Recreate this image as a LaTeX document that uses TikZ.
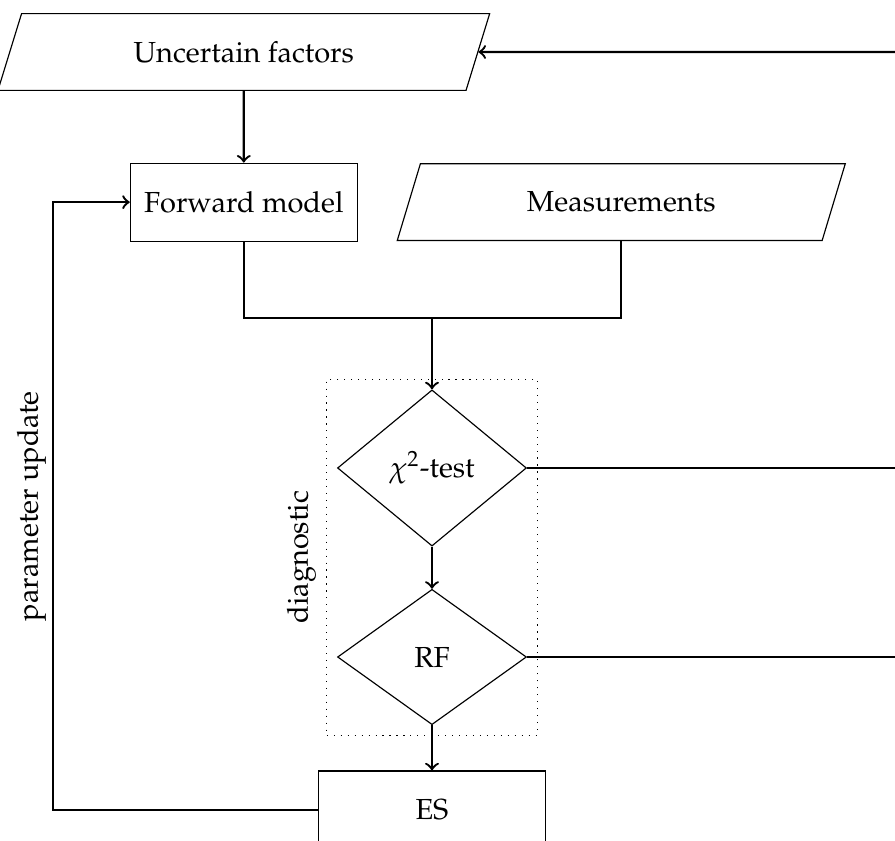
\documentclass[tikz,border=0pt]{standalone}
\usepackage[T1]{fontenc}
\usepackage{mathpazo}
\usepackage{amsmath}
\usepackage{tikz}
\usetikzlibrary{shapes.geometric,fit}

\tikzset{
  io/.style={draw, trapezium, trapezium left angle=60, trapezium right angle=120,
    trapezium stretches body, minimum height=0.93cm},
  block/.style={draw, rectangle, minimum height=0.945cm},
  decision/.style={draw, diamond, minimum width=2.29cm},
  link/.style={thick},
}

\begin{document}
\begin{tikzpicture}
  \useasboundingbox (0,0) rectangle (10.848,-10.193);
  \clip (0,0) rectangle (10.848,-10.193);
  \node[io, minimum width=5.96cm] (unc) at (2.955,-0.63) {Uncertain factors};
  \node[block, minimum width=2.75cm] (fwd) at (2.955,-2.45) {Forward model};
  \node[io, minimum width=5.43cm] (meas) at (7.53,-2.45) {Measurements};
  \node[decision, minimum height=1.87cm] (chi) at (5.236,-5.672) {$\chi^2$-test};
  \node[decision, minimum height=1.64cm] (rf) at (5.236,-7.963) {RF};
  \node[block, minimum width=2.76cm] (es) at (5.236,-9.817) {ES};
  \node[draw, dotted, inner sep=3.5pt, fit=(chi)(rf),
    label={[rotate=90, anchor=south]west:diagnostic}] (diag) {};
  \coordinate (join) at (5.236,-3.854);
  \coordinate (back) at (0.642,-9.817);
  \coordinate (fb) at (11.2,-0.63);
  \coordinate (chiout) at (11.2,-5.672);
  \coordinate (rfout) at (11.2,-7.963);
  \draw[link, ->] (fb) -- (unc.east);
  \draw[link, ->] (unc.south) -- (fwd.north);
  \draw[link] (fwd.south) |- (join) -| (meas.south);
  \draw[link, ->] (join) -- (chi.north);
  \draw[link, ->] (chi.south) -- (rf.north);
  \draw[link, ->] (rf.south) -- (es.north);
  \draw[link] (chi.east) -- (chiout);
  \draw[link] (rf.east) -- (rfout);
  \draw[link, ->] (es.west) -- (back) |- (fwd.west)
    node[pos=0.25, rotate=90, anchor=south, inner sep=2pt] {parameter update};
\end{tikzpicture}
\end{document}
